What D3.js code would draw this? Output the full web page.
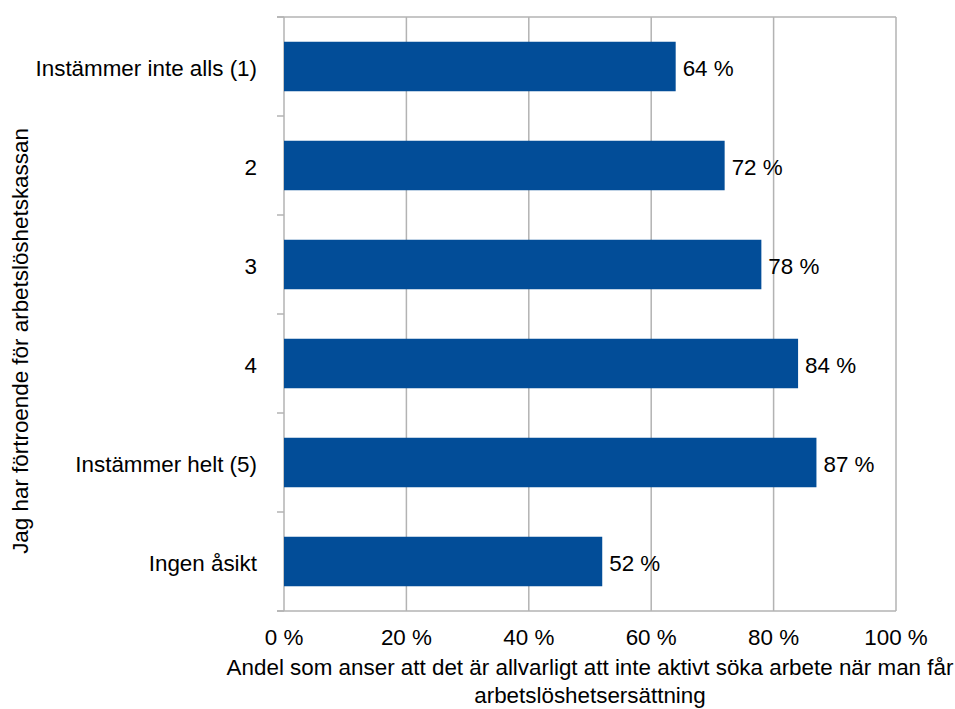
<!DOCTYPE html>
<html>
<head>
<meta charset="utf-8">
<script src="https://cdn.jsdelivr.net/npm/d3@7"></script>
<style>
  html, body { margin: 0; padding: 0; background: #fff; }
  text { font-family: "Liberation Sans", Arial, sans-serif; fill: #000; }
</style>
</head>
<body>
<svg id="chart" width="955" height="709"></svg>
<script>
// Response categories (trust in the unemployment fund) and shares in percent
const categories = ["Instämmer inte alls (1)", "2", "3", "4", "Instämmer helt (5)", "Ingen åsikt"];
const shares = [64, 72, 78, 84, 87, 52];
const xTicks = [0, 20, 40, 60, 80, 100];
const xTitleLines = ["Andel som anser att det är allvarligt att inte aktivt söka arbete när man får", "arbetslöshetsersättning"];
const yTitle = "Jag har förtroende för arbetslöshetskassan";

const svg = d3.select("#chart");
const margin = { left: 284, right: 59, top: 17, bottom: 98 };
const W = 955, H = 709;
const x0 = margin.left, x1 = W - margin.right;
const y0 = margin.top, y1 = H - margin.bottom;
const fontSize = 22.4;

const x = d3.scaleLinear().domain([0, 100]).range([x0, x1]);
const y = d3.scaleBand().domain(categories).range([y0, y1]).paddingInner(0.5).paddingOuter(0.25);
const bandY = d3.scaleBand().domain(categories).range([y0, y1]);

const gridColor = "#b3b3b3";

// vertical gridlines
svg.append("g").selectAll("line").data(xTicks.filter(d => d > 0)).join("line")
  .attr("x1", d => x(d)).attr("x2", d => x(d))
  .attr("y1", y0).attr("y2", y1)
  .attr("stroke", gridColor).attr("stroke-width", 1.5);

// frame top / bottom lines extending past the axis
svg.append("line").attr("x1", x0 - 7).attr("x2", x1).attr("y1", y0).attr("y2", y0)
  .attr("stroke", gridColor).attr("stroke-width", 1.5);
svg.append("line").attr("x1", x0 - 7).attr("x2", x1).attr("y1", y1).attr("y2", y1)
  .attr("stroke", gridColor).attr("stroke-width", 1.5);

// category boundary ticks and left axis line
const bounds = categories.map(c => bandY(c)).concat([y1]);
svg.append("g").selectAll("line").data(bounds).join("line")
  .attr("x1", x0 - 7).attr("x2", x0).attr("y1", d => d).attr("y2", d => d)
  .attr("stroke", gridColor).attr("stroke-width", 1.5);
svg.append("line").attr("x1", x0).attr("x2", x0).attr("y1", y0).attr("y2", y1)
  .attr("stroke", gridColor).attr("stroke-width", 1.5);

// bars
svg.append("g").selectAll("rect").data(categories).join("rect")
  .attr("x", x(0))
  .attr("y", c => y(c))
  .attr("width", (c, i) => x(shares[i]) - x(0))
  .attr("height", y.bandwidth())
  .attr("fill", "#024d98");

// value labels
svg.append("g").selectAll("text").data(categories).join("text")
  .attr("x", (c, i) => x(shares[i]) + 7)
  .attr("y", c => y(c) + y.bandwidth() / 2)
  .attr("dy", "0.44em")
  .attr("font-size", fontSize)
  .text((c, i) => shares[i] + " %");

// category labels
svg.append("g").selectAll("text").data(categories).join("text")
  .attr("x", x0 - 27)
  .attr("y", c => y(c) + y.bandwidth() / 2)
  .attr("dy", "0.44em")
  .attr("text-anchor", "end")
  .attr("font-size", fontSize)
  .text(c => c);

// x tick labels
svg.append("g").selectAll("text").data(xTicks).join("text")
  .attr("x", d => x(d))
  .attr("y", y1 + 34)
  .attr("text-anchor", "middle")
  .attr("font-size", fontSize)
  .text(d => d + " %");

// x axis title
svg.append("g").selectAll("text").data(xTitleLines).join("text")
  .attr("x", (x0 + x1) / 2)
  .attr("y", (d, i) => y1 + 64 + i * 28)
  .attr("text-anchor", "middle")
  .attr("font-size", fontSize)
  .text(d => d);

// y axis title
svg.append("text")
  .attr("transform", `translate(28,341) rotate(-90)`)
  .attr("text-anchor", "middle")
  .attr("font-size", fontSize)
  .text(yTitle);
</script>
</body>
</html>
